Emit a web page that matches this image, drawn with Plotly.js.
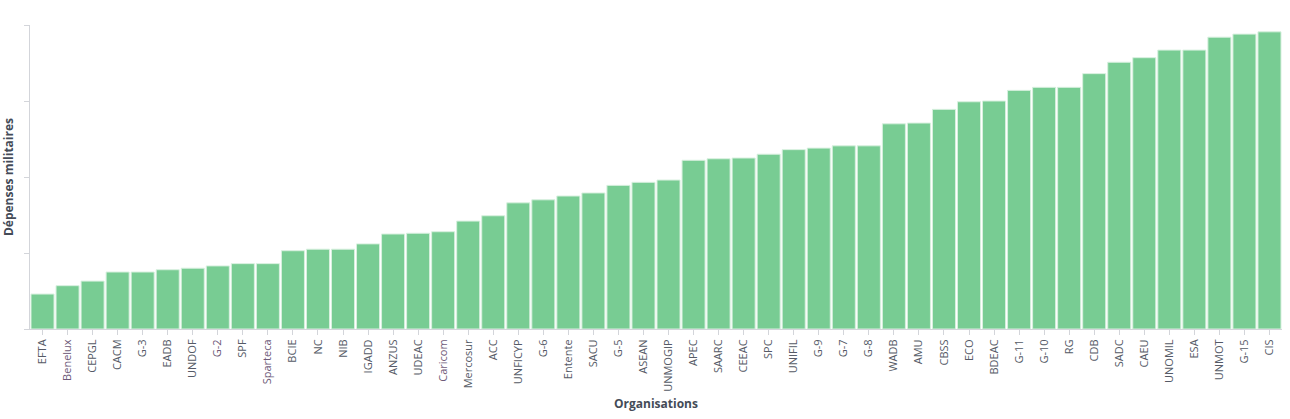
<!DOCTYPE html>
<html>
<head>
<meta charset="utf-8">
<script src="https://cdn.plot.ly/plotly-3.0.1.min.js"></script>
<style>
  html, body { margin: 0; padding: 0; background: #fff; }
  #topbar { position: absolute; left: 0; top: 0; width: 1290px; height: 6px; background: #f7f8fa; }
  #chart { width: 1290px; height: 419px; }
</style>
</head>
<body>
<div id="topbar"></div>
<div id="chart"></div>
<script>
var organisations = [
  "EFTA", "Benelux", "CEPGL", "CACM", "G-3", "EADB", "UNDOF", "G-2", "SPF", "Sparteca",
  "BCIE", "NC", "NIB", "IGADD", "ANZUS", "UDEAC", "Caricom", "Mercosur", "ACC", "UNFICYP",
  "G-6", "Entente", "SACU", "G-5", "ASEAN", "UNMOGIP", "APEC", "SAARC", "CEEAC", "SPC",
  "UNIFIL", "G-9", "G-7", "G-8", "WADB", "AMU", "CBSS", "ECO", "BDEAC", "G-11",
  "G-10", "RG", "CDB", "SADC", "CAEU", "UNOMIL", "ESA", "UNMOT", "G-15", "CIS"
];

var depenses = [
  0.46, 0.57, 0.63, 0.75, 0.75, 0.78, 0.80, 0.83, 0.86, 0.86,
  1.03, 1.05, 1.05, 1.12, 1.25, 1.26, 1.28, 1.42, 1.49, 1.66,
  1.70, 1.75, 1.79, 1.89, 1.93, 1.96, 2.22, 2.24, 2.25, 2.30,
  2.36, 2.38, 2.41, 2.41, 2.70, 2.71, 2.89, 2.99, 3.00, 3.14,
  3.18, 3.18, 3.36, 3.51, 3.57, 3.67, 3.67, 3.84, 3.88, 3.91
];

// labels drawn in a darker mauve in the original
var highlighted = ["Benelux", "G-2", "Sparteca", "Caricom"];

var tickLabels = organisations.map(function (o) {
  return highlighted.indexOf(o) >= 0 ? '<span style="color:#6e5a78">' + o + "</span>" : o;
});

var trace = {
  x: organisations,
  y: depenses,
  type: "bar",
  marker: { color: "#78cc93", line: { color: "#d8f0df", width: 1 } },
  hoverinfo: "x+y"
};

var layout = {
  width: 1290,
  height: 419,
  margin: { l: 30, r: 8, t: 25, b: 90 },
  paper_bgcolor: "#ffffff",
  plot_bgcolor: "#ffffff",
  bargap: 0.08,
  showlegend: false,
  font: { family: "Open Sans, sans-serif", color: "#555a66" },
  xaxis: {
    tickmode: "array",
    tickvals: organisations,
    ticktext: tickLabels,
    tickangle: -90,
    tickfont: { size: 11, color: "#555a66" },
    ticks: "outside",
    ticklen: 5,
    tickcolor: "#d3d5da",
    showline: true,
    linecolor: "#d3d5da",
    showgrid: false,
    title: { text: "Organisations", font: { size: 12, color: "#444b57", weight: "bold" }, standoff: 8 }
  },
  yaxis: {
    range: [0, 4],
    tickvals: [0, 1, 2, 3, 4],
    showticklabels: false,
    ticks: "outside",
    ticklen: 5,
    tickcolor: "#d3d5da",
    showline: true,
    linecolor: "#d3d5da",
    showgrid: false,
    zeroline: false,
    title: { text: "Dépenses militaires", font: { size: 12, color: "#444b57", weight: "bold" }, standoff: 10 }
  }
};

Plotly.newPlot("chart", [trace], layout, { displayModeBar: false, staticPlot: true });
</script>
</body>
</html>
